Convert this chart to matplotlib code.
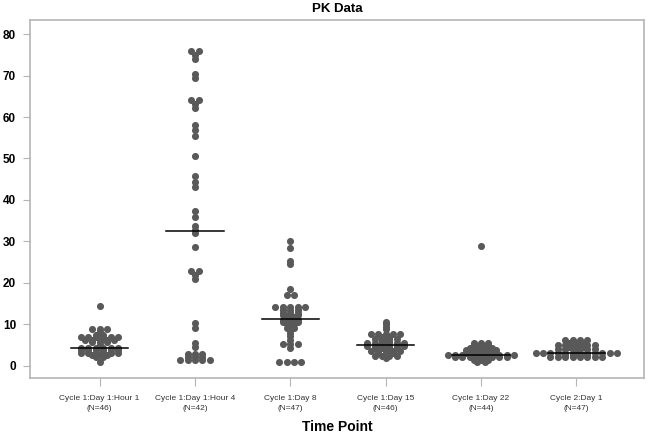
import numpy as np
import matplotlib
matplotlib.use("Agg")
import matplotlib.pyplot as plt

plt.rcParams["font.family"] = ["Liberation Sans", "DejaVu Sans"]

labels = ["Cycle 1:Day 1:Hour 1", "Cycle 1:Day 1:Hour 4", "Cycle 1:Day 8",
          "Cycle 1:Day 15", "Cycle 1:Day 22", "Cycle 2:Day 1"]
n_counts = [46, 42, 47, 46, 44, 47]

# values (points sharing a value sit on one row)
c1d1h1 = [14.5, 8.8, 8.8, 8.8, 8.2, 7.5, 7.5, 6.9, 6.9, 6.9, 6.9, 6.9, 6.9,
          6.3, 6.3, 6.3, 6.3, 6.3, 5.7, 5.7, 5.7, 5.1,
          4.4, 4.4, 4.4, 4.4, 4.4, 4.4, 3.8, 3.8, 3.8, 3.8, 3.8, 3.8,
          3.2, 3.2, 3.2, 3.2, 3.2, 3.2, 2.6, 2.6, 2.6, 2.0, 2.0, 0.8]
c1d1h4 = [76.0, 76.0, 75.0, 74.0, 70.3, 69.4, 64.0, 64.0, 63.1, 62.2, 58.0,
          56.8, 55.4, 50.6, 45.8, 44.4, 43.0, 37.4, 35.8, 33.7, 32.7,
          32.1, 28.7, 22.9, 22.9, 21.9, 20.9, 10.2, 9.2, 5.6, 4.6,
          2.8, 2.8, 2.8, 2.1, 2.1, 2.1, 1.4, 1.4, 1.4, 1.4, 1.4]
c1d8 = [30.0, 28.3, 25.3, 24.6, 18.4, 17.0, 17.0, 14.2, 14.2, 14.2, 14.2, 14.2,
        13.5, 13.5, 13.5, 12.8, 12.8, 12.8, 12.2, 12.2, 12.2, 11.7, 11.7,
        11.4, 11.0, 11.0, 11.0, 10.6, 10.6, 10.6, 10.0, 10.0, 9.4, 9.0, 9.0,
        8.6, 7.8, 7.2, 6.2, 5.2, 5.2, 5.2, 4.4, 0.8, 0.8, 0.8, 0.8]
c1d15 = [10.6, 10.0, 9.4, 8.8, 7.6, 7.6, 7.6, 7.6, 7.6, 7.0, 7.0,
         6.4, 6.4, 6.4, 6.4, 5.9, 5.9, 5.4, 5.4, 5.4, 5.4, 5.4, 5.4,
         4.7, 4.7, 4.7, 4.7, 4.7, 4.7, 4.2, 4.2, 4.2, 4.2, 3.6, 3.6, 3.6,
         3.6, 3.6, 3.0, 3.0, 3.0, 2.4, 2.4, 2.4, 2.4, 1.8]
c1d22 = [28.8, 5.6, 5.6, 5.6, 5.0, 5.0, 5.0, 4.4, 4.4, 4.4, 4.4,
         3.8, 3.8, 3.8, 3.8, 3.8, 3.2, 3.2, 3.2, 3.2, 3.2,
         2.6, 2.6, 2.6, 2.6, 2.6, 2.6, 2.6, 2.6, 2.6, 2.6,
         2.0, 2.0, 2.0, 2.0, 2.0, 2.0, 2.0, 2.0, 1.5, 1.5, 1.5, 1.0, 1.0]
c2d1 = [6.2, 6.2, 6.2, 6.2, 5.6, 5.6, 5.6, 5.0, 5.0, 5.0, 5.0, 5.0, 5.0,
        4.5, 4.5, 4.5, 4.0, 4.0, 4.0, 4.0, 4.0, 4.0, 3.5,
        3.0, 3.0, 3.0, 3.0, 3.0, 3.0, 3.0, 3.0, 3.0, 3.0, 3.0, 3.0,
        2.5, 2.5, 2.5, 2.5, 2.0, 2.0, 2.0, 2.0, 2.0, 2.0, 2.0, 2.0]

groups = [c1d1h1, c1d1h4, c1d8, c1d15, c1d22, c2d1]

DOT = "#595959"
FRAME = "#b5b5b5"
SPACING_PX = 7.4


fig = plt.figure(figsize=(6.5, 4.37), dpi=100)
ax = fig.add_axes([30 / 650, 1 - 378 / 437, 614 / 650, 358 / 437])
ax.set_xlim(0.27, 6.71)
ax.set_ylim(-2.95, 83.4)

# pixels per x data unit, to spread tied points side by side
px_unit = ax.transData.transform((1, 0))[0] - ax.transData.transform((0, 0))[0]
step = SPACING_PX / px_unit

for k, vals in enumerate(groups):
    xc = k + 1
    vals = np.array(vals)
    xs = np.full(len(vals), float(xc))
    for v in np.unique(vals):
        idx = np.where(vals == v)[0]
        n = len(idx)
        xs[idx] = xc + (np.arange(n) - (n - 1) / 2) * step
    ax.scatter(xs, vals, s=26, color=DOT, linewidths=0, zorder=3)
    med = np.median(vals)
    ax.plot([xc - 0.3, xc + 0.3], [med, med], color="black", lw=1.1, zorder=4)

ax.set_xticks(range(1, 7))
ax.set_xticklabels([f"{lab}\n(N={n})" for lab, n in zip(labels, n_counts)],
                   fontsize=6, color="#333333", linespacing=1.6)
ax.set_yticks(range(0, 81, 10))
ax.tick_params(axis="y", labelsize=8.5, length=5, width=0.8, color=FRAME, pad=5)
for t in ax.get_yticklabels():
    t.set_fontweight("bold")
ax.tick_params(axis="x", length=6, width=0.8, color=FRAME, pad=6)

for sp in ax.spines.values():
    sp.set_color(FRAME)
    sp.set_linewidth(1.2)

ax.set_title("PK Data", fontsize=9.5, fontweight="bold", pad=6)
ax.set_xlabel("Time Point", fontsize=10, fontweight="bold", labelpad=6)

fig.savefig("out.png", dpi=100)
